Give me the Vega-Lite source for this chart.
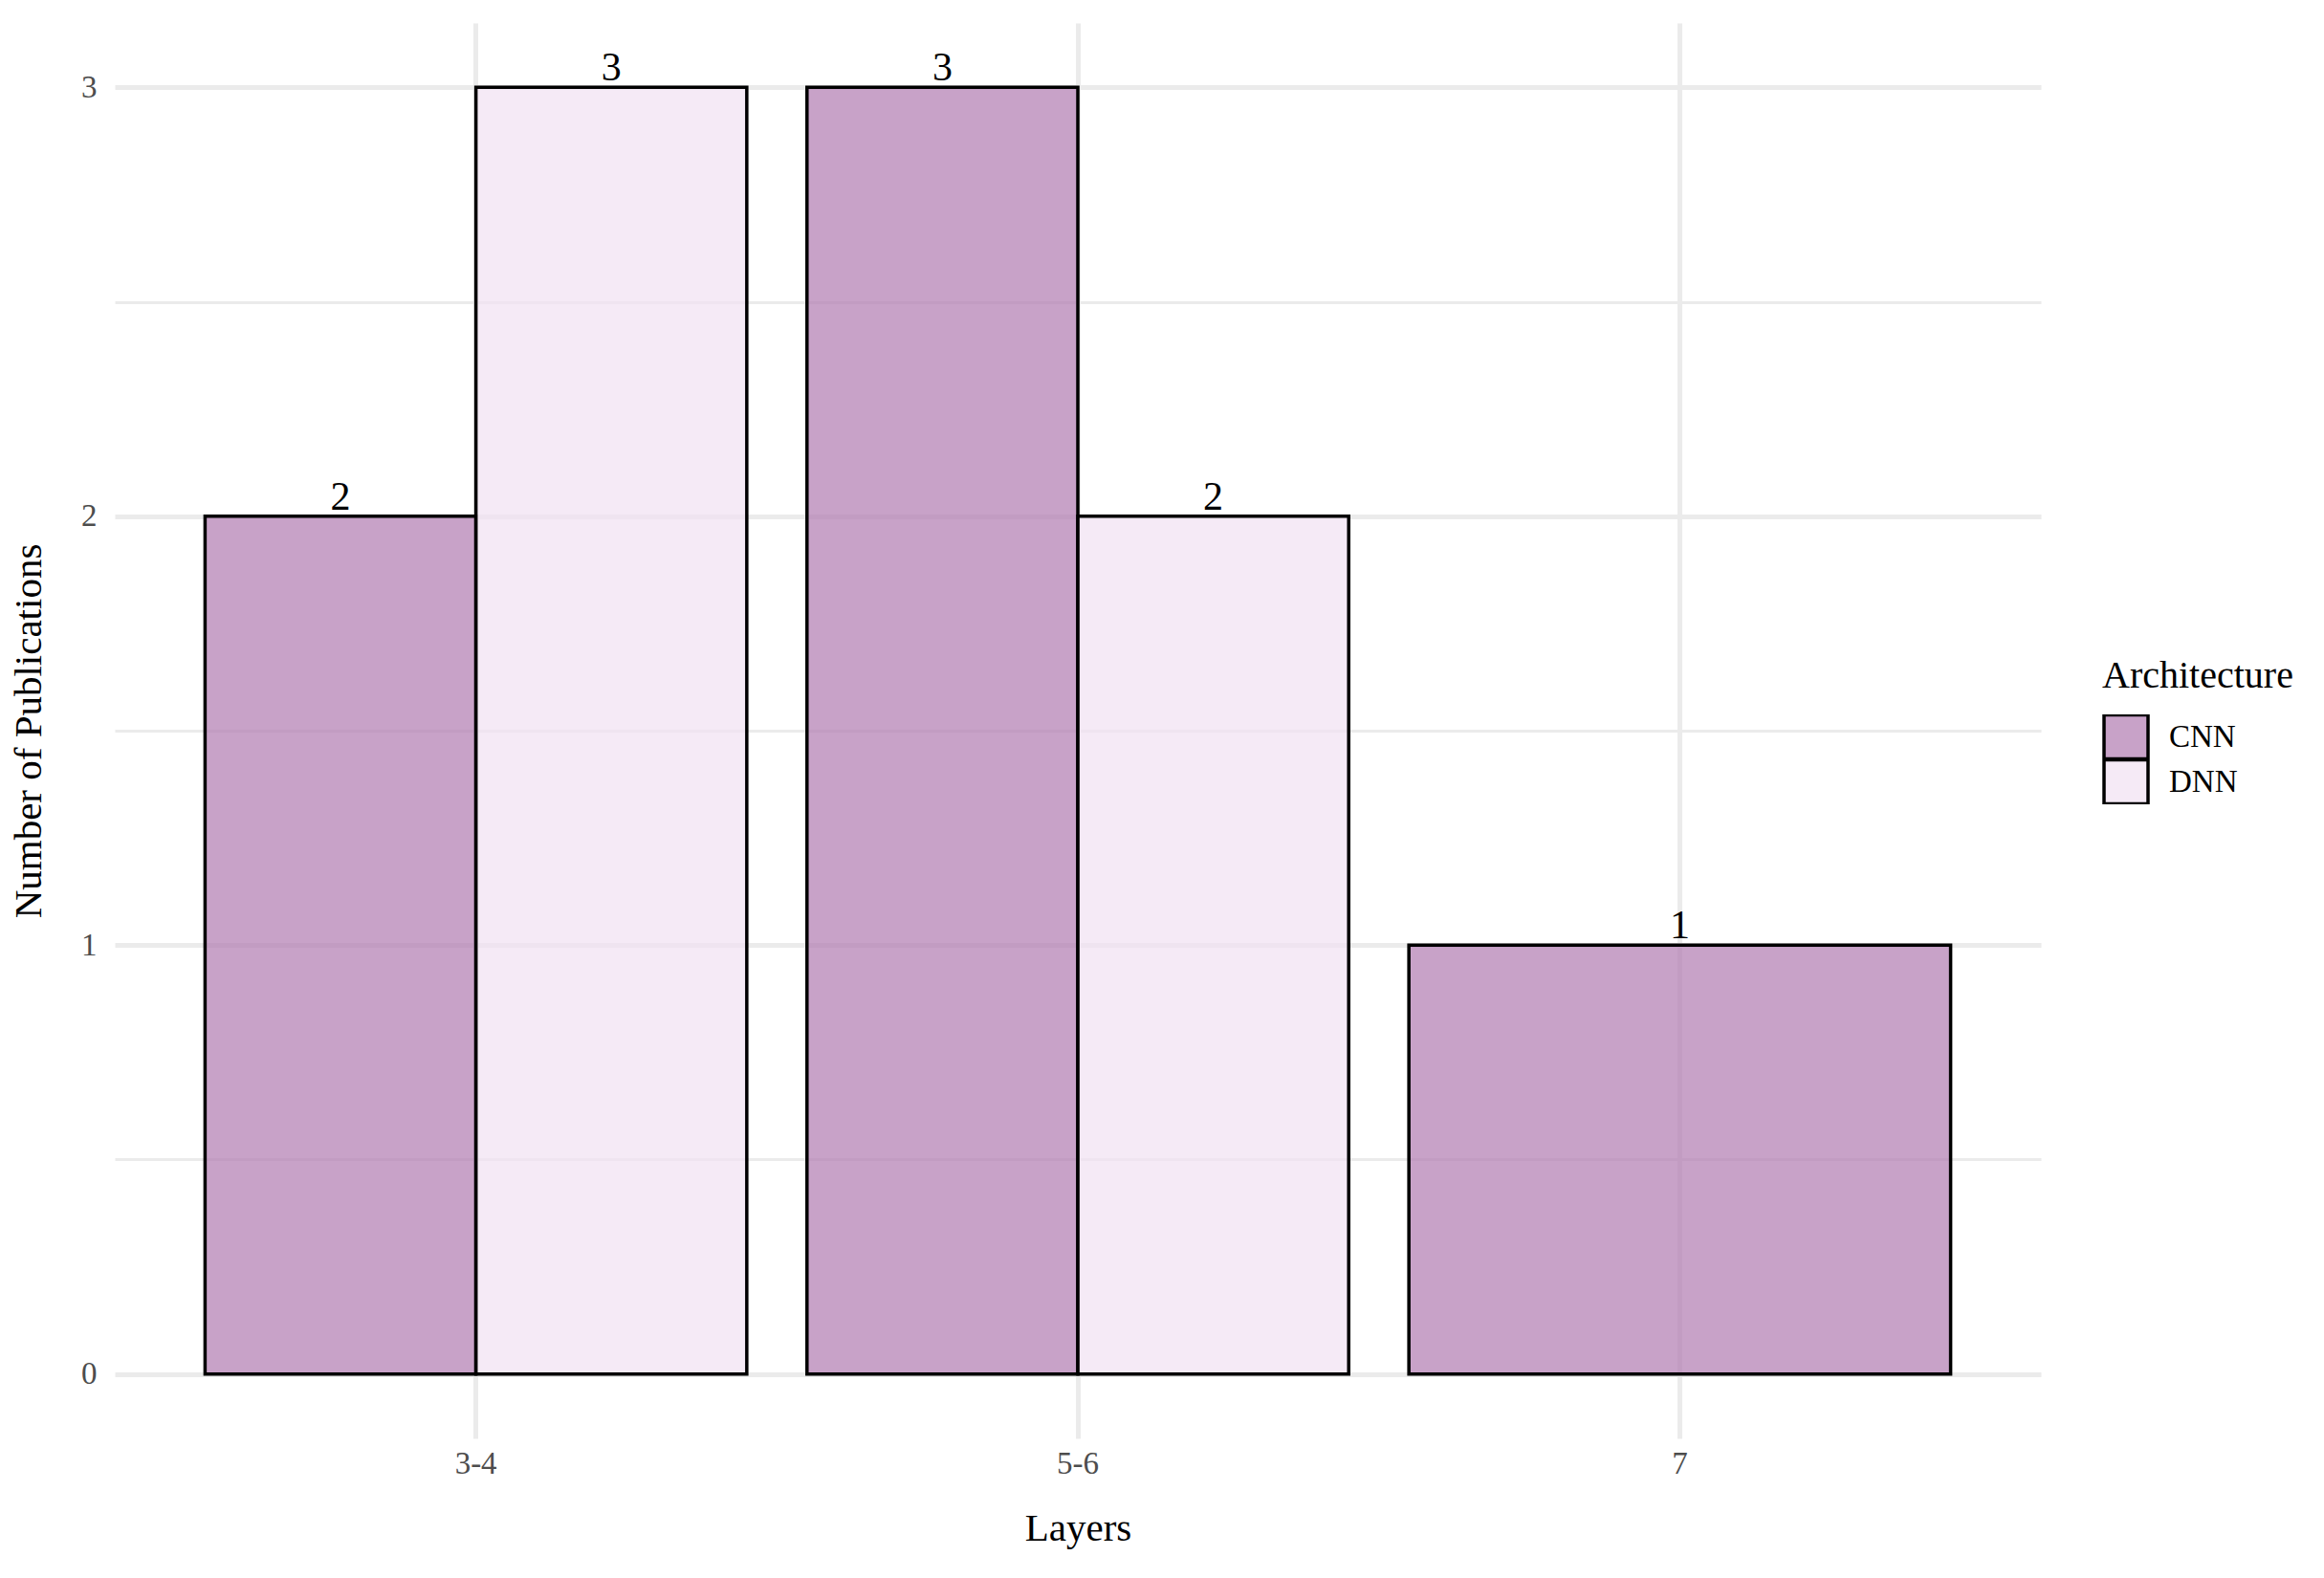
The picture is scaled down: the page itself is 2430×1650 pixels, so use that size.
{
  "$schema": "https://vega.github.io/schema/vega-lite/v6.json",
  "autosize": {"type": "none"},
  "padding": {"left": 120, "top": 24, "right": 296, "bottom": 146},
  "width": 2014,
  "height": 1480,
  "background": "white",
  "config": {
    "font": "Liberation Serif",
    "view": {"stroke": null},
    "axis": {"labelFont": "Liberation Serif", "titleFont": "Liberation Serif", "titleFontWeight": "normal"}
  },
  "resolve": {"axis": {"y": "independent"}},
  "data": {
    "values": [
      {"Layers": "3-4", "Architecture": "CNN", "count": 2},
      {"Layers": "3-4", "Architecture": "DNN", "count": 3},
      {"Layers": "5-6", "Architecture": "CNN", "count": 3},
      {"Layers": "5-6", "Architecture": "DNN", "count": 2},
      {"Layers": "7", "Architecture": "CNN", "count": 1}
    ]
  },
  "encoding": {
    "x": {
      "field": "Layers", "type": "nominal",
      "scale": {"domain": ["3-4", "5-6", "7"], "paddingInner": 0.1, "paddingOuter": 0.15},
      "axis": {
        "title": "Layers", "titleFontSize": 41, "titleColor": "black",
        "titleBaseline": "alphabetic", "titleX": 1007, "titleY": 106,
        "labelAngle": 0, "labelFontSize": 33, "labelColor": "#4D4D4D",
        "labelBaseline": "alphabetic", "labelPadding": 36,
        "ticks": false, "tickSize": 0, "domain": false,
        "grid": true, "gridColor": "#EBEBEB", "gridWidth": 5
      }
    }
  },
  "layer": [
    {
      "mark": {"type": "rule", "opacity": 0},
      "encoding": {
        "y": {
          "field": "count", "type": "quantitative",
          "scale": {"domain": [-0.15, 3.15], "nice": false, "zero": false},
          "axis": {
            "orient": "right", "values": [0.5, 1.5, 2.5], "labels": false, "ticks": false, "tickSize": 0,
            "domain": false, "title": null, "grid": true, "gridColor": "#EBEBEB", "gridWidth": 3
          }
        }
      }
    },
    {
      "transform": [{"filter": "datum.Layers != '7'"}],
      "mark": {"type": "bar", "stroke": "black", "strokeWidth": 3.5, "fillOpacity": 0.7},
      "encoding": {
        "y": {
          "field": "count", "type": "quantitative",
          "scale": {"domain": [-0.15, 3.15], "nice": false, "zero": false},
          "axis": {
            "title": "Number of Publications", "titleFontSize": 41, "titleColor": "black",
            "titleBaseline": "alphabetic", "titleX": -78, "titleY": 740, "titleAngle": -90,
            "values": [0, 1, 2, 3], "format": "d",
            "labelFontSize": 33, "labelColor": "#4D4D4D", "labelPadding": 19,
            "ticks": false, "tickSize": 0, "domain": false,
            "grid": true, "gridColor": "#EBEBEB", "gridWidth": 5
          }
        },
        "xOffset": {"field": "Architecture", "type": "nominal", "scale": {"domain": ["CNN", "DNN"]}},
        "fill": {
          "field": "Architecture", "type": "nominal",
          "scale": {"domain": ["CNN", "DNN"], "range": ["#B07AB0", "#F1E1F2"]},
          "legend": {
            "title": "Architecture", "orient": "none", "legendX": 2078, "legendY": 663,
            "titleFont": "Liberation Serif", "titleFontSize": 40, "titleFontWeight": "normal", "titleColor": "black",
            "titlePadding": 20, "titleLimit": 0,
            "labelFont": "Liberation Serif", "labelFontSize": 33, "labelColor": "black", "labelOffset": 20, "labelLimit": 0,
            "symbolType": "square", "symbolSize": 2116, "symbolStrokeColor": "black", "symbolStrokeWidth": 3.5,
            "rowPadding": 0, "clipHeight": 47, "padding": 0,
            "encode": {"symbols": {"update": {"fillOpacity": {"value": 0.7}, "opacity": {"value": 1}, "strokeOpacity": {"value": 1}}}}
          }
        }
      }
    },
    {
      "transform": [{"filter": "datum.Layers == '7'"}],
      "mark": {"type": "bar", "stroke": "black", "strokeWidth": 3.5, "fillOpacity": 0.7},
      "encoding": {
        "y": {"field": "count", "type": "quantitative", "axis": null},
        "fill": {"field": "Architecture", "type": "nominal"}
      }
    },
    {
      "transform": [{"filter": "datum.Layers != '7'"}],
      "mark": {"type": "text", "font": "Liberation Serif", "fontSize": 42, "color": "black", "baseline": "alphabetic", "dy": -7},
      "encoding": {
        "y": {"field": "count", "type": "quantitative", "axis": null},
        "xOffset": {"field": "Architecture", "type": "nominal"},
        "text": {"field": "count", "type": "quantitative"}
      }
    },
    {
      "transform": [{"filter": "datum.Layers == '7'"}],
      "mark": {"type": "text", "font": "Liberation Serif", "fontSize": 42, "color": "black", "baseline": "alphabetic", "dy": -7},
      "encoding": {
        "y": {"field": "count", "type": "quantitative", "axis": null},
        "text": {"field": "count", "type": "quantitative"}
      }
    }
  ]
}
